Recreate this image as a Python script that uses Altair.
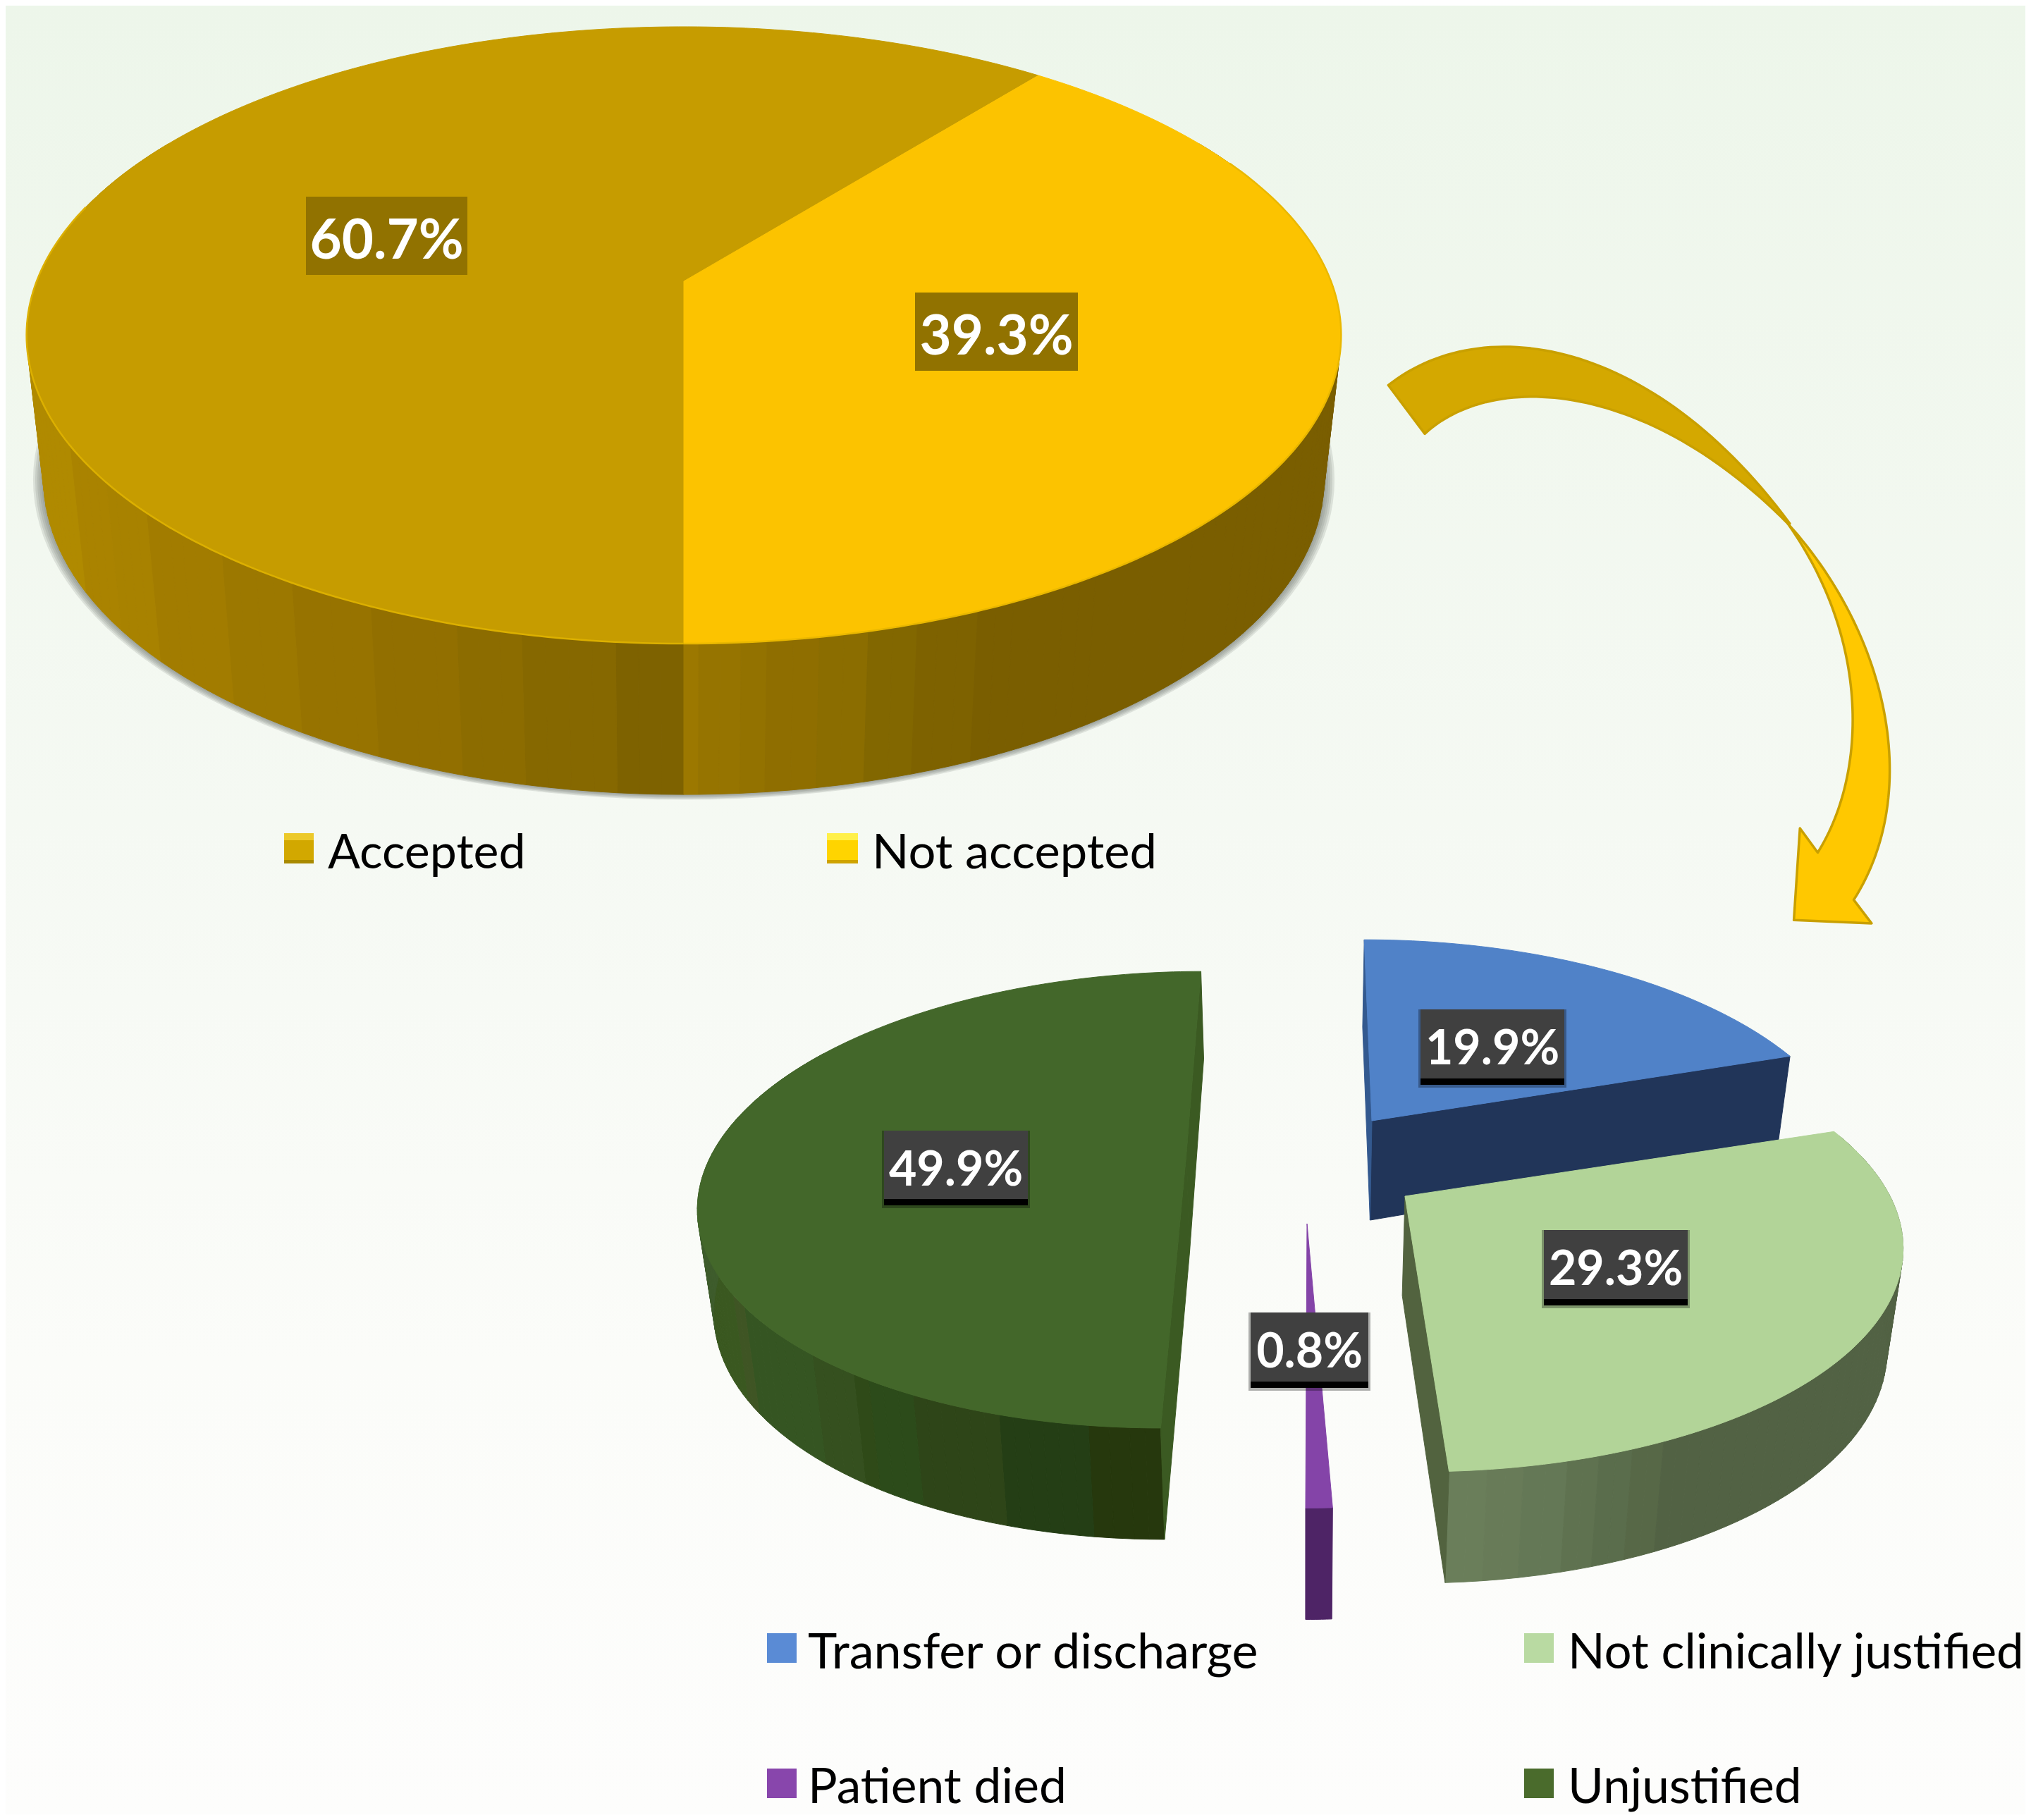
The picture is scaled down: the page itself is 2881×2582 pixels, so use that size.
import math
import altair as alt
import pandas as pd

# ---------- values ----------
TOP_NAMES = ["Accepted", "Not accepted"]
TOP_VALUES = [60.7, 39.3]
TOP_LABELS = ["60.7%", "39.3%"]
TOP_FACE = ["#c69c00", "#fcc300"]

LOW_NAMES = ["Transfer or discharge", "Not clinically justified", "Patient died", "Unjustified"]
LOW_VALUES = [19.9, 29.3, 0.8, 49.9]
LOW_LABELS = ["19.9%", "29.3%", "0.8%", "49.9%"]
LOW_FACE = ["#5082c8", "#b2d498", "#8444a8", "#43672a"]
LOW_LEGEND = ["#5a8bd5", "#b9daa2", "#8846ac", "#4a6b2c"]

# side bands: (angle at which band ends, colour), walked from the first angle
ACC_BANDS = [(185, "#7e6200"), (192, "#866800"), (197, "#8c6c00"), (204, "#926f00"), (211, "#977300"),
             (218, "#9c7800"), (227, "#a27c00"), (233, "#a88200"), (240, "#aa8300"), (300, "#b08a00")]
NOT_BANDS = [(178.9, "#9c7800"), (175.8, "#967400"), (173.9, "#937200"), (170, "#8f6e00"), (166.3, "#8b6d00"),
             (162.5, "#826700"), (157.6, "#7e6200"), (60, "#7a5e00")]
UNJ_BANDS = [(183, "#26380d"), (187, "#26380d"), (196, "#243e15"), (205.5, "#2e4518"), (211, "#2c4b1a"),
             (213, "#2f4a18"), (219, "#35501f"), (232, "#355522"), (235, "#3f5524"), (250, "#3a5820"), (300, "#3e5c2c")]
NCJ_BANDS = [(173.5, "#6a7e5a"), (170, "#687b58"), (165.7, "#647856"), (162.5, "#5f7250"), (159, "#5a6d4c"),
             (155.6, "#576847"), (73, "#526244")]

# arrow edges as cubic Bezier control polygons (crop coordinates)
ARROW_DARK_OUT = [(208, 168), (440, -15), (860, 50), (1200, 510)]
ARROW_DARK_IN = [(298, 288), (470, 130), (850, 160), (1195, 510)]
ARROW_OUT = [(1195, 510), (1440, 780), (1530, 1170), (1358, 1440)]
ARROW_HEAD = [(1402, 1498), (1210, 1490), (1225, 1263)]
ARROW_IN = [(1269, 1323), (1390, 1130), (1400, 800), (1195, 510)]

W, H = 2865, 2566


def project(p, theta):
    t = math.radians(theta)
    u, v = math.sin(t), math.cos(t)
    q = 1 + p["c"] * v
    return p["ax"] + (p["rx"] * u + p["s"] * v) / q, p["ay"] - p["ry"] * v / q, v


def bottom(p, theta):
    x, y, v = project(p, theta)
    return x + p["k"] * (p["vx"] - x), y + p["d0"] + p["d1"] * v


def angles(a, b, step=1.0):
    n = max(2, int(abs(b - a) / step) + 1)
    return [a + (b - a) * i / (n - 1) for i in range(n)]


poly_rows = []


def add_poly(pts, fill):
    pid = poly_rows[-1]["pid"] + 1 if poly_rows else 0
    for i, (x, y) in enumerate(pts):
        poly_rows.append({"pid": pid, "i": i, "x": x, "y": y, "col": fill})


def top_pts(p, a, b):
    return [(p["ax"], p["ay"])] + [project(p, t)[:2] for t in angles(a, b)]


def side(p, bands, start):
    # one quad per small step, so that the outline follows the tangent between rim and base
    prev = start
    for end, col in bands:
        th = angles(prev, end, 1.5)
        for t0, t1 in zip(th[:-1], th[1:]):
            add_poly([project(p, t0)[:2], project(p, t1)[:2], bottom(p, t1), bottom(p, t0)], col)
        prev = end


def wall(p, theta, col):
    apex_b = (p["ax"] + p["k"] * (p["vx"] - p["ax"]), p["ay"] + p["d0"])
    add_poly([(p["ax"], p["ay"]), project(p, theta)[:2], bottom(p, theta), apex_b], col)


# ---------- upper pie ----------
top_p = dict(ax=970, ay=399, rx=918, ry=424.2, c=0.1749, s=0, k=0.026, vx=970, d0=203.1, d1=-10.9)
split = 180 - TOP_VALUES[1] * 3.6
acc_a, acc_b = 180, 180 + TOP_VALUES[0] * 3.6

shadow_rows = []
for j, g in enumerate([3, 6, 9, 12, 15]):
    for i, t in enumerate(angles(0, 360, 2)):
        x, y = bottom(top_p, t)
        shadow_rows.append({"pid": j, "i": i, "x": 970 + (x - 970) * (1 + g / 912), "y": 680 + (y - 680) * (1 + g / 2 / 447)})

side(top_p, ACC_BANDS, 180)
side(top_p, NOT_BANDS, 180)
add_poly(top_pts(top_p, acc_a, acc_b), TOP_FACE[0])
add_poly(top_pts(top_p, split, 180), TOP_FACE[1])

# ---------- lower pie, exploded ----------
low_geom = [
    dict(ax=1946, ay=1590, rx=670, s=-13, ry=310),
    dict(ax=1993, ay=1697, rx=688, s=-15, ry=310),
    dict(ax=1854, ay=1736, rx=605, s=1.6, ry=320),
    dict(ax=1683, ay=1635, rx=672, s=29, ry=310),
]
for g in low_geom:
    g.update(c=0.207, k=0.027, vx=1850, d0=141, d1=-17)
cum = [0]
for val in LOW_VALUES:
    cum.append(cum[-1] + val * 3.6)

# blue
p = low_geom[0]
wall(p, cum[1], "#213559")
wall(p, cum[0], "#33598f")
add_poly(top_pts(p, cum[0], cum[1]), LOW_FACE[0])
# light green
p = low_geom[1]
side(p, NCJ_BANDS, cum[2])
wall(p, cum[2], "#52633f")
add_poly(top_pts(p, cum[1], cum[2]), LOW_FACE[1])
# purple
p = low_geom[2]
th = angles(cum[2], cum[3], 0.5)
add_poly([project(p, t)[:2] for t in th] + [bottom(p, t) for t in reversed(th)], "#4e2466")
add_poly(top_pts(p, cum[2], cum[3]), LOW_FACE[2])
# dark green
p = low_geom[3]
side(p, UNJ_BANDS, 180)
wall(p, cum[3], "#3b5a22")
wall(p, cum[4], "#3b5a22")
add_poly(top_pts(p, cum[3], cum[4]), LOW_FACE[3])

# rim highlight on upper pie
rim_rows = []
for pid, (a, b, col) in enumerate([(180, 285, "#dcb000"), (65, 180, "#eab800")]):
    for i, t in enumerate(angles(a, b)):
        x, y, _ = project(top_p, t)
        rim_rows.append({"pid": pid, "i": i, "x": x, "y": y, "col": col})


# ---------- arrow ----------
def bez(c, n=60):
    out = []
    for i in range(n + 1):
        t = i / n
        m = 1 - t
        out.append(tuple(m ** 3 * c[0][k] + 3 * m * m * t * c[1][k] + 3 * m * t * t * c[2][k] + t ** 3 * c[3][k] for k in (0, 1)))
    return out


def z(pts):
    return [(1850 + a / 1.742, 450 + b / 1.742) for a, b in pts]


arrow_rows = []
for pid, (pts, col) in enumerate([
    (bez(z(ARROW_OUT)) + z(ARROW_HEAD) + bez(z(ARROW_IN)), "#ffc800"),
    (bez(z(ARROW_DARK_OUT)) + bez(z(ARROW_DARK_IN))[::-1], "#d4a800"),
]):
    for i, (x, y) in enumerate(pts):
        arrow_rows.append({"pid": pid, "i": i, "x": x, "y": y, "col": col})

# ---------- scales ----------
X_SCALE = alt.Scale(domain=[8, 8 + W], nice=False, zero=False)
Y_SCALE = alt.Scale(domain=[8 + H, 8], nice=False, zero=False)
X = alt.X("x:Q", scale=X_SCALE, axis=None)
Y = alt.Y("y:Q", scale=Y_SCALE, axis=None)
X2 = alt.X2("x2:Q")
Y2 = alt.Y2("y2:Q")

bg = alt.Chart(pd.DataFrame([{"x": 8, "x2": 8 + W, "y": 8, "y2": 8 + H}])).mark_rect(
    fill=alt.LinearGradient(gradient="linear", x1=0, x2=0, y1=0, y2=1,
                            stops=[alt.GradientStop(color="#edf6ea", offset=0),
                                   alt.GradientStop(color="#f5f9f3", offset=0.45),
                                   alt.GradientStop(color="#fbfcf9", offset=0.75),
                                   alt.GradientStop(color="#fdfdfc", offset=1)])
).encode(x=X, x2=X2, y=Y, y2=Y2)

shadow = alt.Chart(pd.DataFrame(shadow_rows)).mark_line(
    interpolate="linear-closed", fill="#6d736c", fillOpacity=0.17, strokeWidth=0, strokeOpacity=0
).encode(x=X, y=Y, detail="pid:N", order="i:Q")

faces = alt.Chart(pd.DataFrame(poly_rows)).mark_line(interpolate="linear-closed", strokeWidth=1).encode(
    x=X, y=Y, detail="pid:N", order="i:Q",
    fill=alt.Fill("col:N", scale=None), stroke=alt.Stroke("col:N", scale=None))

rim = alt.Chart(pd.DataFrame(rim_rows)).mark_line(strokeWidth=2.5).encode(
    x=X, y=Y, detail="pid:N", order="i:Q", stroke=alt.Stroke("col:N", scale=None))

arrow = alt.Chart(pd.DataFrame(arrow_rows)).mark_line(
    interpolate="linear-closed", strokeWidth=3.5, stroke="#c9a000", strokeJoin="round"
).encode(x=X, y=Y, detail="pid:N", order="i:Q", fill=alt.Fill("col:N", scale=None))

# ---------- value labels ----------
box_x = [434, 1298, 2015, 2190, 1774, 1254]
box_x2 = [663, 1529, 2219, 2394, 1941, 1458]
box_y = [279, 415, 1432, 1745, 1862, 1604]
box_y2 = [390, 526, 1530, 1843, 1960, 1701]
box_text = [TOP_LABELS[0], TOP_LABELS[1], LOW_LABELS[0], LOW_LABELS[1], LOW_LABELS[2], LOW_LABELS[3]]
box_col = ["#917200", "#917200", "#404040", "#404040", "#404040", "#404040"]
boxes = pd.DataFrame({"x": box_x, "x2": box_x2, "y": box_y, "y2": box_y2, "t": box_text, "col": box_col})
boxes["cx"] = (boxes.x + boxes.x2) / 2
boxes["cy"] = (boxes.y + boxes.y2) / 2
shadows = boxes.iloc[2:].copy()
shadows_a = shadows.assign(x=shadows.x - 3, x2=shadows.x2 + 3, y2=shadows.y2 + 13)
shadows_b = shadows.assign(y2=shadows.y2 + 9)

sh_a = alt.Chart(shadows_a).mark_rect(fill="#000000", opacity=0.3).encode(x=X, x2=X2, y=Y, y2=Y2)
sh_b = alt.Chart(shadows_b).mark_rect(fill="#000000").encode(x=X, x2=X2, y=Y, y2=Y2)
box_rect = alt.Chart(boxes).mark_rect().encode(x=X, x2=X2, y=Y, y2=Y2, fill=alt.Fill("col:N", scale=None))
big = alt.Chart(boxes.iloc[:2]).mark_text(font="Lato", fontWeight="bold", fontSize=78, color="white", baseline="middle", align="center", dy=9).encode(
    x=alt.X("cx:Q", scale=X_SCALE, axis=None), y=alt.Y("cy:Q", scale=Y_SCALE, axis=None), text="t:N")
small = alt.Chart(boxes.iloc[2:]).mark_text(font="Lato", fontWeight="bold", fontSize=68, color="white", baseline="middle", align="center", dy=9).encode(
    x=alt.X("cx:Q", scale=X_SCALE, axis=None), y=alt.Y("cy:Q", scale=Y_SCALE, axis=None), text="t:N")

# ---------- legends ----------
sw_x = [403, 1173, 1088, 2162, 1088, 2162]
sw_x2 = [445, 1217, 1130, 2204, 1130, 2204]
sw_y = [1182, 1182, 2317, 2317, 2509, 2509]
sw_y2 = [1225, 1225, 2359, 2359, 2551, 2551]
sw_col = ["#d2a800", "#ffd400"] + LOW_LEGEND
leg_names = TOP_NAMES + LOW_NAMES
leg_x = [465, 1237, 1146, 2224, 1146, 2224]
leg_y = [1232, 1232, 2367, 2367, 2558, 2558]
leg_fs = [68, 68.7, 70.1, 69, 69.6, 69.3]
legend_df = pd.DataFrame({"x": sw_x, "x2": sw_x2, "y": sw_y, "y2": sw_y2, "col": sw_col,
                          "name": leg_names, "tx": leg_x, "ty": leg_y, "fs": leg_fs})
swatch = alt.Chart(legend_df).mark_rect().encode(x=X, x2=X2, y=Y, y2=Y2, fill=alt.Fill("col:N", scale=None))
bevel = pd.DataFrame({"x": sw_x[:2], "x2": sw_x2[:2], "col": ["#ecc92a", "#fff04a"], "y": sw_y[:2]})
bevel["y2"] = bevel["y"] + 10
bevel2 = pd.DataFrame({"x": sw_x[:2], "x2": sw_x2[:2], "col": ["#a98a00", "#cfa300"], "y2": sw_y2[:2]})
bevel2["y"] = bevel2["y2"] - 5
sw_top = alt.Chart(bevel).mark_rect().encode(x=X, x2=X2, y=Y, y2=Y2, fill=alt.Fill("col:N", scale=None))
sw_bot = alt.Chart(bevel2).mark_rect().encode(x=X, x2=X2, y=Y, y2=Y2, fill=alt.Fill("col:N", scale=None))
leg_text = alt.Chart(legend_df).mark_text(font="Lato", color="#000000", baseline="alphabetic", align="left").encode(
    x=alt.X("tx:Q", scale=X_SCALE, axis=None), y=alt.Y("ty:Q", scale=Y_SCALE, axis=None), text="name:N",
    size=alt.Size("fs:Q", scale=None))

chart = alt.layer(bg, shadow, faces, rim, arrow, sh_a, sh_b, box_rect, big, small, swatch, sw_top, sw_bot, leg_text).properties(
    width=W, height=H, padding=0, autosize=alt.AutoSizeParams(type="none"), background="#ffffff"
).configure_view(stroke=None)

chart.save("out.html", embed_options={"renderer": "svg", "actions": False})
